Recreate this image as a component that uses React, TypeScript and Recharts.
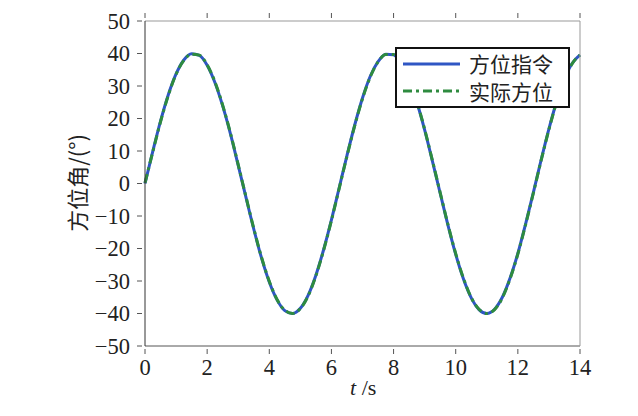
import React from "react";
import { LineChart, Line, XAxis, YAxis } from "recharts";

const time = [
  0, 0.25, 0.5, 0.75, 1, 1.25, 1.5, 1.75, 2, 2.25, 2.5, 2.75, 3, 3.25, 3.5, 3.75,
  4, 4.25, 4.5, 4.75, 5, 5.25, 5.5, 5.75, 6, 6.25, 6.5, 6.75, 7, 7.25, 7.5, 7.75,
  8, 8.25, 8.5, 8.75, 9, 9.25, 9.5, 9.75, 10, 10.25, 10.5, 10.75, 11, 11.25, 11.5,
  11.75, 12, 12.25, 12.5, 12.75, 13, 13.25, 13.5, 13.75, 14,
];
const command = [
  0, 9.9, 19.2, 27.3, 33.7, 38.0, 39.9, 39.4, 36.4, 31.1, 23.9, 15.3, 5.6, -4.3,
  -14.0, -22.9, -30.3, -35.8, -39.1, -40.0, -38.4, -34.4, -28.2, -20.3, -11.2, -1.3,
  8.6, 18.0, 26.3, 33.0, 37.5, 39.8, 39.6, 36.9, 31.9, 25.0, 16.5, 6.9, -3.0, -12.8,
  -21.8, -29.4, -35.2, -38.8, -40.0, -38.7, -35.0, -29.1, -21.5, -12.4, -2.7, 7.3,
  16.8, 25.3, 32.2, 37.0, 39.6,
];
const actual = [
  0.2, 9.7, 19.0, 27.1, 33.6, 37.9, 39.8, 39.5, 36.5, 31.3, 24.1, 15.5, 5.8, -4.1,
  -13.8, -22.7, -30.1, -35.7, -39.0, -40.0, -38.5, -34.6, -28.4, -20.5, -11.4, -1.5,
  8.4, 17.8, 26.1, 32.8, 37.4, 39.7, 39.7, 37.0, 32.1, 25.2, 16.7, 7.1, -2.8, -12.6,
  -21.6, -29.2, -35.1, -38.7, -40.0, -38.8, -35.2, -29.3, -21.7, -12.6, -2.9, 7.1,
  16.6, 25.1, 32.0, 36.9, 39.5,
];
const xTicks = [0, 2, 4, 6, 8, 10, 12, 14];
const yTicks = [-50, -40, -30, -20, -10, 0, 10, 20, 30, 40, 50];
const seriesNames = ["方位指令", "实际方位"];

const data = time.map((t, i) => ({ t, cmd: command[i], act: actual[i] }));

const FONT = "'Liberation Serif', 'Times New Roman', serif";
const CJK = "'Noto Sans CJK SC', serif";
const BLUE = "#2f56c4";
const GREEN = "#2e8b3f";
const TICK = 5;

const LeftTick = (props: any) => {
  const { x, y, payload } = props;
  const label = payload.value < 0 ? `\u2212${Math.abs(payload.value)}` : `${payload.value}`;
  return (
    <g>
      <line x1={x} x2={x + TICK} y1={y} y2={y} stroke="#555" strokeWidth={1} />
      <text x={x - 7} y={y} dy={7.5} textAnchor="end" fontFamily={FONT} fontSize={22.5} fill="#222">
        {label}
      </text>
    </g>
  );
};

const RightTick = (props: any) => {
  const { x, y } = props;
  return <line x1={x - TICK} x2={x} y1={y} y2={y} stroke="#555" strokeWidth={1} />;
};

const BottomTick = (props: any) => {
  const { x, y, payload } = props;
  return (
    <g>
      <line x1={x} x2={x} y1={y - TICK} y2={y} stroke="#555" strokeWidth={1} />
      <text x={x} y={y + 2} dy={19} textAnchor="middle" fontFamily={FONT} fontSize={22.5} fill="#222">
        {payload.value}
      </text>
    </g>
  );
};

const TopTick = (props: any) => {
  const { x, y } = props;
  return <line x1={x} x2={x} y1={y} y2={y + TICK} stroke="#555" strokeWidth={1} />;
};

export default function App() {
  return (
    <div style={{ position: "absolute", left: 0, top: 0, width: 638, height: 416, background: "#fff" }}>
      <LineChart width={638} height={416} data={data} margin={{ top: 0, right: 0, bottom: 0, left: 0 }}>
        <XAxis
          xAxisId="b"
          dataKey="t"
          type="number"
          domain={[0, 14]}
          ticks={xTicks}
          height={70}
          stroke="#555"
          tickLine={false}
          tick={<BottomTick />}
          interval={0}
        />
        <XAxis
          xAxisId="t"
          orientation="top"
          dataKey="t"
          type="number"
          domain={[0, 14]}
          ticks={xTicks}
          height={21}
          stroke="#999"
          tickLine={false}
          tick={<TopTick />}
          interval={0}
        />
        <YAxis
          yAxisId="l"
          type="number"
          domain={[-50, 50]}
          ticks={yTicks}
          width={145}
          stroke="#333"
          tickLine={false}
          tick={<LeftTick />}
          interval={0}
        />
        <YAxis
          yAxisId="r"
          orientation="right"
          type="number"
          domain={[-50, 50]}
          ticks={yTicks}
          width={58}
          stroke="#999"
          tickLine={false}
          tick={<RightTick />}
          interval={0}
        />
        <Line
          xAxisId="b"
          yAxisId="l"
          type="monotone"
          dataKey="cmd"
          stroke={BLUE}
          strokeWidth={3}
          dot={false}
          isAnimationActive={false}
        />
        <Line
          xAxisId="b"
          yAxisId="l"
          type="monotone"
          dataKey="act"
          stroke={GREEN}
          strokeWidth={3}
          strokeDasharray="9 4 3 4"
          dot={false}
          isAnimationActive={false}
        />
      </LineChart>
      <div
        style={{
          position: "absolute",
          left: 76,
          top: 183,
          transform: "translate(-50%, -50%) rotate(-90deg)",
          fontFamily: CJK,
          fontSize: 22,
          color: "#222",
          whiteSpace: "nowrap",
        }}
      >
        方位角/(°)
      </div>
      <div
        style={{
          position: "absolute",
          left: 395,
          top: 47,
          width: 175,
          height: 61,
          border: "2px solid #111",
          background: "#fff",
          boxSizing: "border-box",
        }}
      >
        <svg width={171} height={57} style={{ position: "absolute", left: 0, top: 0 }}>
          <line x1={6} x2={63} y1={15} y2={15} stroke={BLUE} strokeWidth={3} />
          <line x1={6} x2={63} y1={42} y2={42} stroke={GREEN} strokeWidth={3} strokeDasharray="9 4 3 4" />
          <text x={72} y={23} fontFamily={CJK} fontSize={21} fill="#222">
            {seriesNames[0]}
          </text>
          <text x={72} y={51} fontFamily={CJK} fontSize={21} fill="#222">
            {seriesNames[1]}
          </text>
        </svg>
      </div>
      <div
        style={{
          position: "absolute",
          left: 350,
          top: 375,
          fontFamily: FONT,
          fontSize: 22,
          color: "#222",
        }}
      >
        <i>t</i> /s
      </div>
    </div>
  );
}
